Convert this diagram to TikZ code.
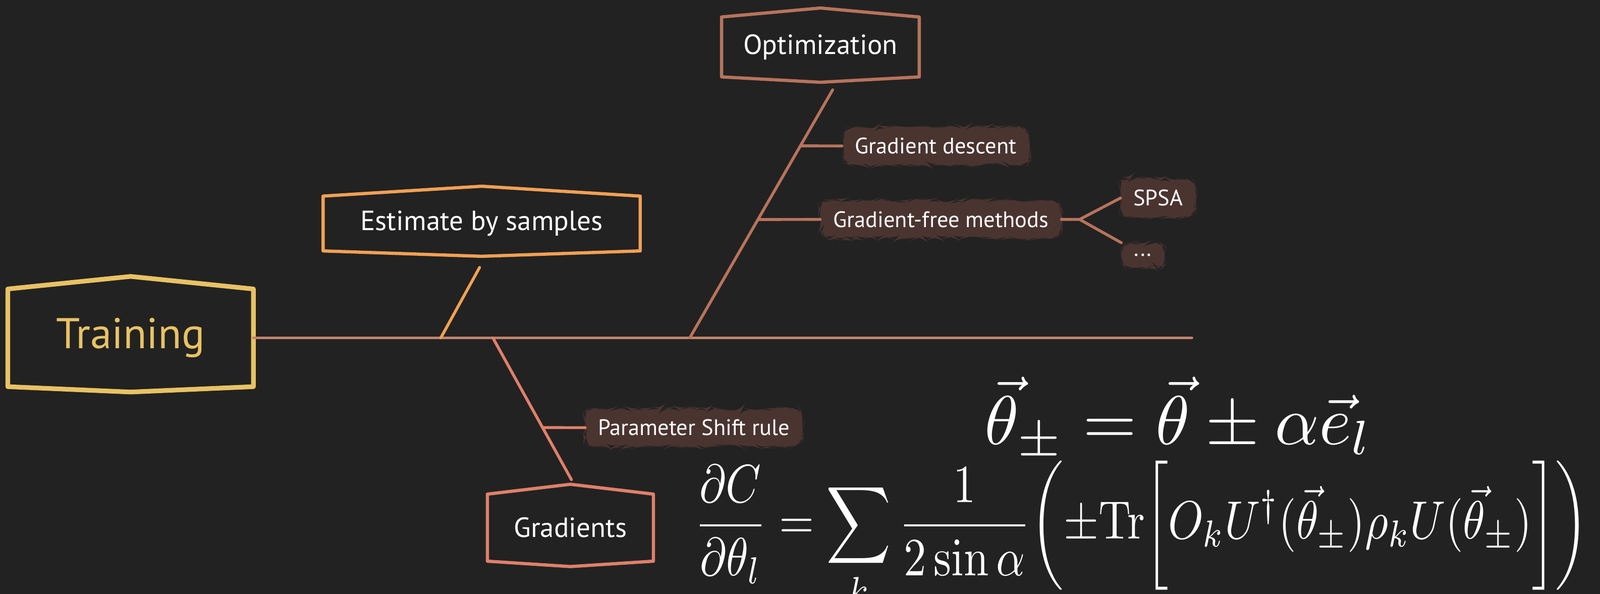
\documentclass[tikz,border=0pt]{standalone}
\usepackage{amsmath,amssymb}
\usepackage[no-math]{fontspec}
\setmainfont{PT Sans}
\usetikzlibrary{positioning, calc, decorations.pathmorphing}

\definecolor{board}{HTML}{222222}
\definecolor{trainc}{HTML}{E8C264}
\definecolor{estc}{HTML}{F2A154}
\definecolor{optc}{HTML}{B8735C}
\definecolor{gradc}{HTML}{E0806A}
\definecolor{spinec}{HTML}{C3836C}
\definecolor{chalkbg}{HTML}{4A3430}

\begin{document}
\begin{tikzpicture}[
    box/.style={minimum width=3.2cm, minimum height=1.1cm, align=center, text=white, font=\fontsize{15.5}{18}\selectfont},
    leaf/.style={fill=chalkbg, text=white, rounded corners=5pt, inner xsep=7pt, inner ysep=6pt, font=\fontsize{12.5}{15}\selectfont, decorate, decoration={random steps, segment length=3pt, amplitude=1.2pt}},
    bone/.style={line width=1.6pt, line cap=round},
    eq/.style={text=white}
]
    % board
    \fill[board] (0,0) rectangle (31.36,-11.64);
    \useasboundingbox (0,0) rectangle (31.36,-11.64);

    % main nodes
    \node[box, font=\fontsize{24}{28}\selectfont, text=trainc, minimum width=4.8cm, minimum height=1.9cm] (train) at (2.56,-6.62) {Training};
    \node[box, minimum width=6.2cm, minimum height=1.06cm] (est) at (9.44,-4.38) {Estimate by samples};
    \node[box, minimum width=3.86cm, minimum height=1.16cm] (opt) at (16.08,-0.92) {Optimization};
    \node[box, minimum width=3.24cm, minimum height=1.3cm] (grad) at (11.18,-10.34) {Gradients};

    % sketchy outlines
    \foreach \n/\c/\w/\p in {train/trainc/2.6pt/7pt, est/estc/1.8pt/5.5pt, opt/optc/1.8pt/5pt, grad/gradc/1.8pt/5.5pt}
        \draw[\c, line width=\w, line join=round] (\n.north west) -- ([yshift=\p]\n.north) -- (\n.north east)
            -- (\n.south east) -- ([yshift=-3pt]\n.south) -- (\n.south west) -- cycle;

    % spine and bones
    \coordinate (tail) at (23.36,-6.62);
    \coordinate (jest) at (8.64,-6.62);
    \coordinate (jgrad) at (9.66,-6.62);
    \coordinate (jopt) at (13.52,-6.62);
    \coordinate (eest) at (9.40,-5.24);
    \coordinate (eopt) at (16.32,-1.76);
    \coordinate (egrad) at (11.2,-9.4);

    \draw[spinec, bone] (train.east) -- (tail);
    \draw[estc, bone] (jest) -- (eest);
    \draw[optc, bone] (jopt) -- (eopt);
    \draw[gradc, bone] (jgrad) -- (egrad);

    % leaves
    \node[leaf] (gd) at (18.34,-2.86) {Gradient descent};
    \node[leaf] (gf) at (18.44,-4.3) {Gradient-free methods};
    \node[leaf] (spsa) at (22.7,-3.88) {SPSA};
    \node[leaf] (more) at (22.4,-5.0) {...};
    \node[leaf] (psr) at (13.6,-8.38) {Parameter Shift rule};

    \coordinate (jgd) at ($(jopt)!0.774!(eopt)$);
    \coordinate (jgf) at ($(jopt)!0.477!(eopt)$);
    \coordinate (jpsr) at ($(jgrad)!0.633!(egrad)$);
    \coordinate (fork) at (21.16,-4.3);

    \draw[optc, bone] (jgd) -- (gd.west);
    \draw[optc, bone] (jgf) -- (gf.west);
    \draw[optc, bone] (gf.east) -- (fork) -- (spsa.west);
    \draw[optc, bone] (fork) -- (more.north west);
    \draw[gradc, bone] (jpsr) -- (psr.west);

    % formulas
    \node[eq, scale=3.85, transform shape] (shift) at (23.1,-8.2) {$\vec{\theta}_{\pm} = \vec{\theta} \pm \alpha \vec{e}_l$};
    \node[eq, xscale=2.5, yscale=3.0, transform shape, anchor=west] (deriv) at (13.3,-10.48)
        {$\displaystyle \frac{\partial C}{\partial\theta_l} = \sum_k \frac{1}{2\sin\alpha}\biggl(\pm\mathrm{Tr}\biggl[O_k U^\dagger(\vec{\theta}_\pm)\rho_k U(\vec{\theta}_\pm)\biggr]\biggr)$};
\end{tikzpicture}
\end{document}
